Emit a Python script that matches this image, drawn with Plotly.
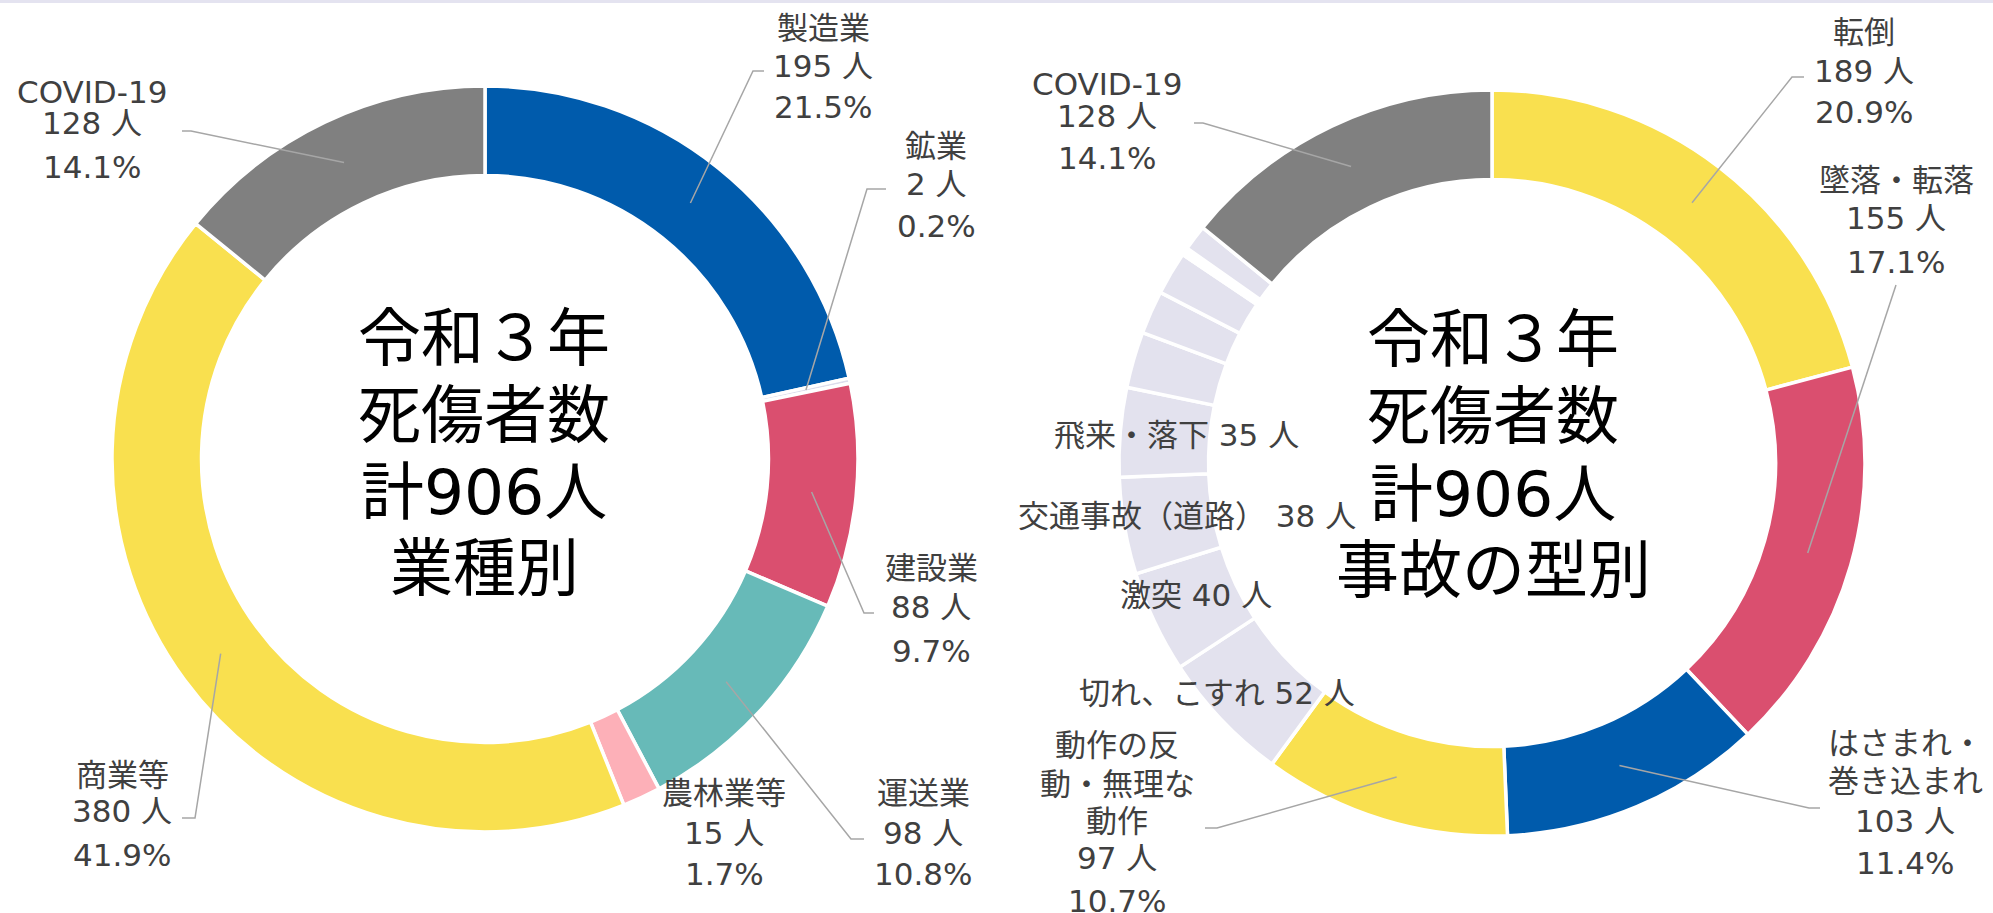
import math
import plotly.graph_objects as go

W, H = 1993, 913

# ---------------- data ----------------
ind_labels = ["製造業", "鉱業", "建設業", "運送業", "農林業等", "商業等", "COVID-19"]
ind_values = [195, 2, 88, 98, 15, 380, 128]
ind_colors = ["#005BAC", "#DCDDEC", "#DA4F6F", "#67BAB8", "#FDB0B8", "#F9E04F", "#808080"]

acc_labels = ["転倒", "墜落・転落", "はさまれ・巻き込まれ", "動作の反動・無理な動作",
              "切れ、こすれ", "激突", "交通事故（道路）", "飛来・落下",
              "その他1", "その他2", "その他3", "その他4", "その他5", "COVID-19"]
acc_values = [189, 155, 103, 97, 52, 40, 38, 35, 22, 17, 17, 3, 10, 128]
acc_colors = ["#F9E04F", "#DA4F6F", "#005BAC", "#F9E04F",
              "#E3E2EE", "#E3E2EE", "#E3E2EE", "#E3E2EE",
              "#E3E2EE", "#E3E2EE", "#E3E2EE", "#FFFFFF", "#E3E2EE", "#808080"]

center_left = ["令和３年", "死傷者数", "計{}人", "業種別"]
center_right = ["令和３年", "死傷者数", "計{}人", "事故の型別"]

# ---------------- layout geometry (pixels) ----------------
R = 373
HOLE = 0.76
L_CX, L_CY = 485, 459
R_CX, R_CY = 1492, 463
MID_R = R * (1 + HOLE) / 2

TEXT_COLOR = "#404040"
LINE_COLOR = "#A6A6A6"
FONT = "DejaVu Sans, Noto Sans CJK JP"
LABEL_SIZE = 31

# label layout: display lines (None -> name), x, line y's, leader stub points
ind_layout = {
    "製造業":   dict(x=823, ys=[28, 66, 107], stub=[(764, 71), (753, 71)]),
    "鉱業":     dict(x=936, ys=[146, 184, 226], stub=[(886, 189), (867, 189)]),
    "建設業":   dict(x=931, ys=[568, 607, 651], stub=[(874, 613), (864, 613)]),
    "運送業":   dict(x=923, ys=[793, 833, 874], stub=[(864, 839), (851, 839)]),
    "農林業等": dict(x=724, ys=[793, 833, 874], stub=None),
    "商業等":   dict(x=122, ys=[775, 811, 855], stub=[(182, 818), (195, 818)]),
    "COVID-19": dict(x=92, ys=[92, 123, 167], stub=[(182, 131), (191, 131)]),
}
acc_layout = {
    "転倒":       dict(x=1864, ys=[32, 71, 112], stub=[(1804, 77), (1792, 77)]),
    "墜落・転落": dict(x=1896, ys=[180, 218, 262], stub=[(1896, 285)]),
    "はさまれ・巻き込まれ": dict(x=1905, ys=[743, 781, 821, 863], lines=["はさまれ・", "巻き込まれ"],
                              stub=[(1820, 808), (1809, 808)]),
    "動作の反動・無理な動作": dict(x=1117, ys=[745, 784, 821, 858, 901],
                                lines=["動作の反", "動・無理な", "動作"],
                                stub=[(1205, 828), (1217, 828)]),
    "切れ、こすれ":     dict(x=1217, ys=[693], single=True),
    "激突":             dict(x=1196, ys=[595], single=True),
    "交通事故（道路）": dict(x=1187, ys=[516], single=True),
    "飛来・落下":       dict(x=1176, ys=[435], single=True),
    "COVID-19":         dict(x=1107, ys=[84, 116, 158], stub=[(1194, 123), (1203, 123)]),
}


def px(x):
    return x / W


def py(y):
    return 1 - y / H


def ring_point(values, idx, cx, cy):
    total = sum(values)
    start = sum(values[:idx])
    ang = (start + values[idx] / 2) / total * 2 * math.pi
    return cx + MID_R * math.sin(ang), cy - MID_R * math.cos(ang)


fig = go.Figure()

for labels, values, colors, cx, cy in [
    (ind_labels, ind_values, ind_colors, L_CX, L_CY),
    (acc_labels, acc_values, acc_colors, R_CX, R_CY),
]:
    fig.add_trace(go.Pie(
        labels=labels, values=values, sort=False, direction="clockwise", rotation=0,
        hole=HOLE, textinfo="none", hoverinfo="label+value+percent",
        marker=dict(colors=colors, line=dict(color="#FFFFFF", width=3.5)),
        domain=dict(x=[px(cx - R), px(cx + R)], y=[py(cy + R), py(cy - R)]),
        showlegend=False,
    ))

annotations = []
shapes = [dict(type="rect", xref="paper", yref="paper", x0=0, x1=1, y0=py(3), y1=1,
               fillcolor="#E4E3F0", line=dict(width=0), layer="above")]


def add_labels(labels, values, layout, cx, cy):
    total = sum(values)
    for i, (lab, v) in enumerate(zip(labels, values)):
        if lab not in layout:
            continue
        L = layout[lab]
        if L.get("single"):
            lines = [f"{lab} {v} 人"]
        else:
            lines = L.get("lines", [lab]) + [f"{v} 人", f"{v / total * 100:.1f}%"]
        for t, yy in zip(lines, L["ys"]):
            annotations.append(dict(
                x=px(L["x"]), y=py(yy), xref="paper", yref="paper", text=t,
                showarrow=False, xanchor="center", yanchor="middle",
                font=dict(family=FONT, size=LABEL_SIZE, color=TEXT_COLOR)))
        if L.get("stub"):
            pts = list(L["stub"]) + [ring_point(values, i, cx, cy)]
            path = "M " + " L ".join(f"{px(a):.5f},{py(b):.5f}" for a, b in pts)
            shapes.append(dict(type="path", xref="paper", yref="paper", path=path,
                               line=dict(color=LINE_COLOR, width=1.5), layer="above"))


add_labels(ind_labels, ind_values, ind_layout, L_CX, L_CY)
add_labels(acc_labels, acc_values, acc_layout, R_CX, R_CY)

for lines, total, cx, ys in [
    (center_left, sum(ind_values), 484, [338, 415, 492, 568]),
    (center_right, sum(acc_values), 1493, [340, 416, 494, 570]),
]:
    for t, yy in zip(lines, ys):
        annotations.append(dict(
            x=px(cx), y=py(yy), xref="paper", yref="paper", text=t.format(total),
            showarrow=False, xanchor="center", yanchor="middle",
            font=dict(family=FONT, size=63, color="#000000")))

fig.update_layout(
    width=W, height=H, margin=dict(l=0, r=0, t=0, b=0),
    paper_bgcolor="#FFFFFF", plot_bgcolor="#FFFFFF",
    annotations=annotations, shapes=shapes, showlegend=False,
)

fig.write_html("out.html", include_plotlyjs=True,
               config={"displayModeBar": False},
               post_script="document.body.style.margin='0px';document.body.style.overflow='hidden';")
